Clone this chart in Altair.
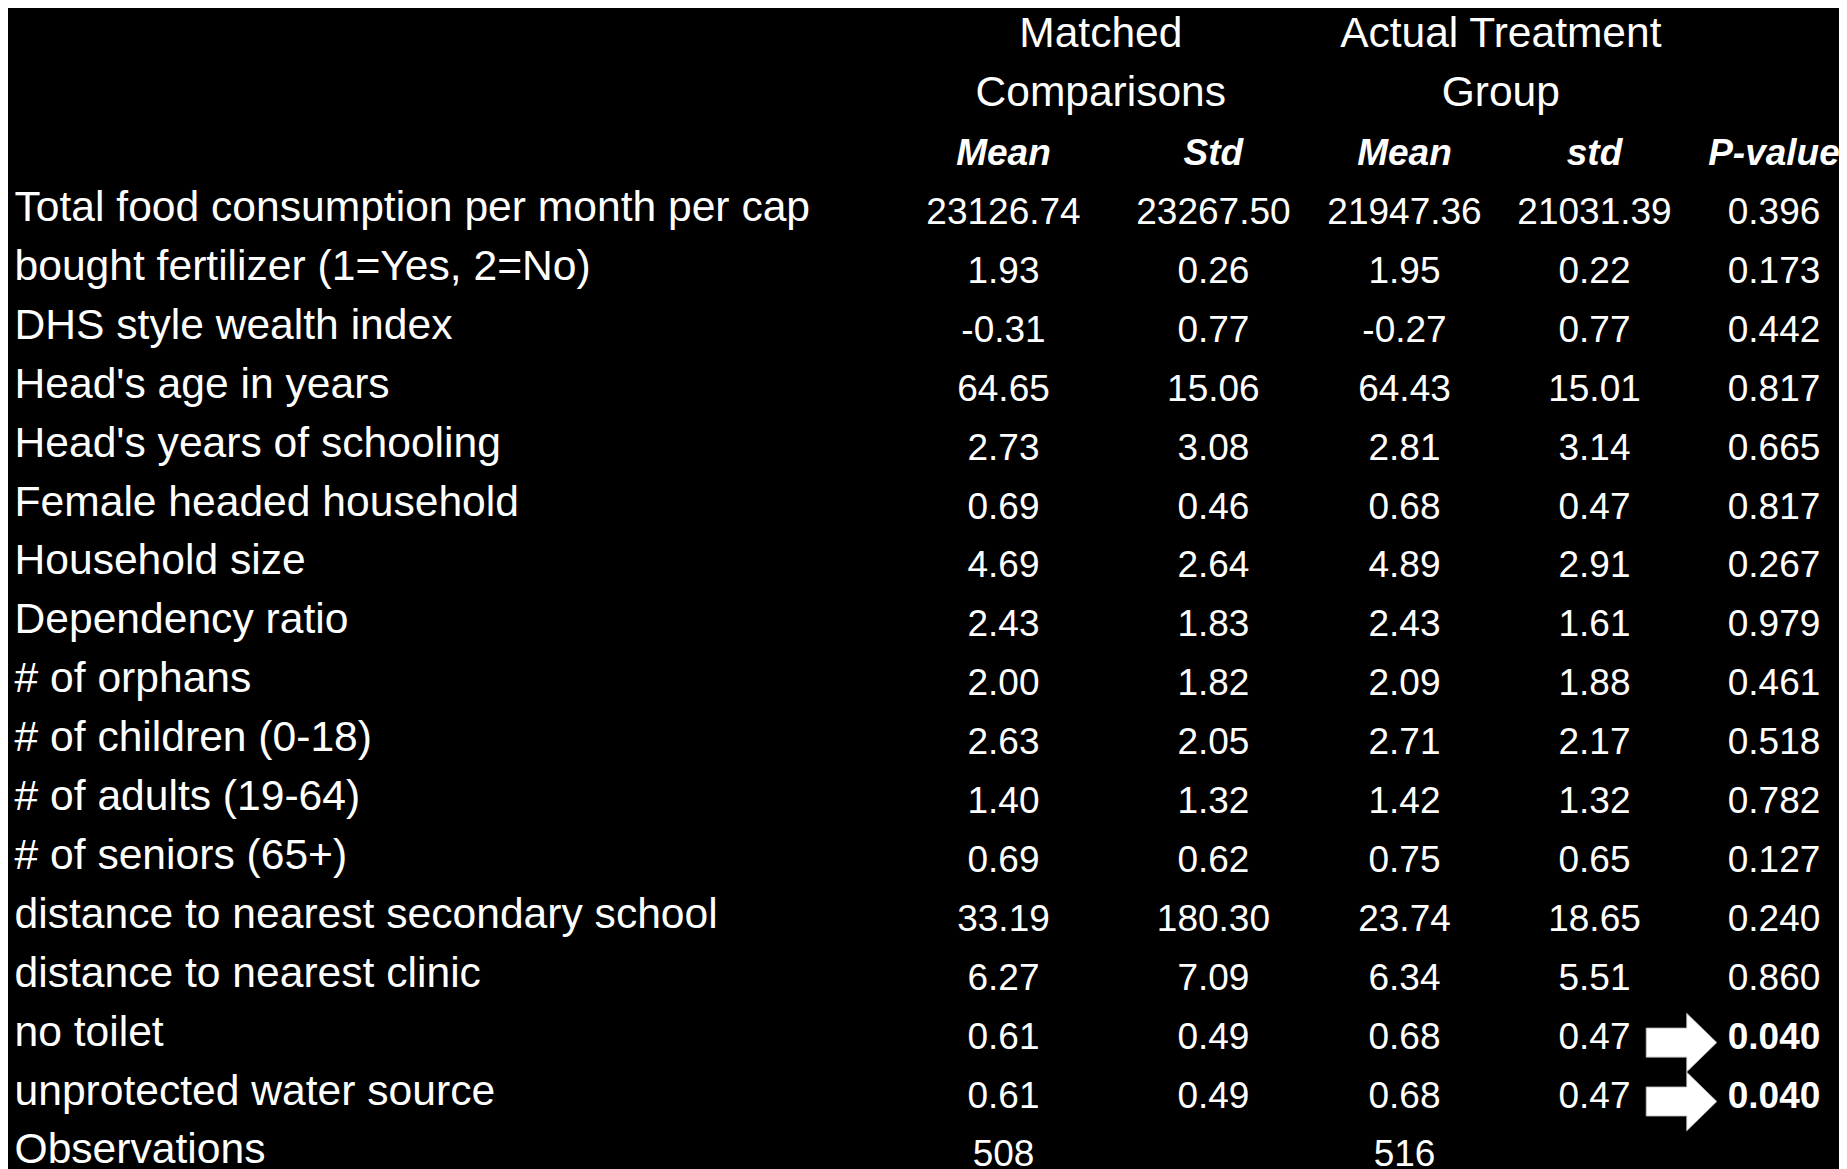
import altair as alt
import pandas as pd

# ---------------- data ----------------
variables = [
    "Total food consumption per month per cap",
    "bought fertilizer (1=Yes, 2=No)",
    "DHS style wealth index",
    "Head's age in years",
    "Head's years of schooling",
    "Female headed household",
    "Household size",
    "Dependency ratio",
    "# of orphans",
    "# of children (0-18)",
    "# of adults (19-64)",
    "# of seniors (65+)",
    "distance to nearest secondary school",
    "distance to nearest clinic",
    "no toilet",
    "unprotected water source",
]
matched_mean = [23126.74, 1.93, -0.31, 64.65, 2.73, 0.69, 4.69, 2.43, 2.00, 2.63, 1.40, 0.69, 33.19, 6.27, 0.61, 0.61]
matched_std = [23267.50, 0.26, 0.77, 15.06, 3.08, 0.46, 2.64, 1.83, 1.82, 2.05, 1.32, 0.62, 180.30, 7.09, 0.49, 0.49]
treat_mean = [21947.36, 1.95, -0.27, 64.43, 2.81, 0.68, 4.89, 2.43, 2.09, 2.71, 1.42, 0.75, 23.74, 6.34, 0.68, 0.68]
treat_std = [21031.39, 0.22, 0.77, 15.01, 3.14, 0.47, 2.91, 1.61, 1.88, 2.17, 1.32, 0.65, 18.65, 5.51, 0.47, 0.47]
p_values = [0.396, 0.173, 0.442, 0.817, 0.665, 0.817, 0.267, 0.979, 0.461, 0.518, 0.782, 0.127, 0.240, 0.860, 0.040, 0.040]
obs_label = "Observations"
observations = [508, 516]
group_headers = [["Matched", "Comparisons"], ["Actual Treatment", "Group"]]
column_headers = ["Mean", "Std", "Mean", "std", "P-value"]
significance = 0.05

# ---------------- layout (style only) ----------------
W, H = 1831, 1161
COL_X = [995.5, 1205.4, 1396.5, 1586.5, 1766.0]
GROUP_X = [1092.8, 1492.8]
LABEL_X = 6.5
ARROW_X = 1673.5
FONT = "Liberation Sans"

# ---------------- tables ----------------
n = len(variables)
labels_df = pd.DataFrame({
    "row": list(range(n)) + [n],
    "x": [LABEL_X] * (n + 1),
    "text": variables + [obs_label],
})

cells = []
for i in range(n):
    for c, v in enumerate([matched_mean[i], matched_std[i], treat_mean[i], treat_std[i]]):
        cells.append({"row": i, "x": COL_X[c], "text": f"{v:.2f}"})
for c, v in zip([0, 2], observations):
    cells.append({"row": n, "x": COL_X[c], "text": str(v)})
cells_df = pd.DataFrame(cells)

p_df = pd.DataFrame({
    "row": list(range(n)),
    "x": [COL_X[4]] * n,
    "text": [f"{p:.3f}" for p in p_values],
    "sig": [p < significance for p in p_values],
})

group_df = pd.DataFrame([
    {"row": -3 + k, "x": GROUP_X[g], "text": t}
    for g, pair in enumerate(group_headers) for k, t in enumerate(pair)
])
colhead_df = pd.DataFrame({"row": [-1] * 5, "x": COL_X, "text": column_headers})

arrow_df = p_df[p_df["sig"]].assign(x=ARROW_X)

# ---------------- scales ----------------
ROW0, STEP = 216.0, 58.9
xs = alt.Scale(domain=[0, W], range=[0, W])
ys = alt.Scale(domain=[-ROW0 / STEP, (H - ROW0) / STEP], range=[0, H])

def enc(ch):
    return ch.encode(
        x=alt.X("x:Q", scale=xs, axis=None),
        y=alt.Y("row:Q", scale=ys, axis=None),
    )

labels = enc(alt.Chart(labels_df).mark_text(
    align="left", baseline="alphabetic", font=FONT, fontSize=42.6, color="white", dy=-3
)).encode(text="text:N")

nums = enc(alt.Chart(cells_df).mark_text(
    align="center", baseline="alphabetic", font=FONT, fontSize=37, color="white"
)).encode(text="text:N")

pnorm = enc(alt.Chart(p_df[~p_df["sig"]]).mark_text(
    align="center", baseline="alphabetic", font=FONT, fontSize=37, color="white"
)).encode(text="text:N")

pbold = enc(alt.Chart(p_df[p_df["sig"]]).mark_text(
    align="center", baseline="alphabetic", font=FONT, fontSize=37, fontWeight="bold", color="white"
)).encode(text="text:N")

groups = enc(alt.Chart(group_df).mark_text(
    align="center", baseline="alphabetic", font=FONT, fontSize=42.5, color="white"
)).encode(text="text:N")

colheads = enc(alt.Chart(colhead_df).mark_text(
    align="center", baseline="alphabetic", font=FONT, fontSize=37,
    fontWeight="bold", fontStyle="italic", color="white"
)).encode(text="text:N")

ARROW_PATH = "M -1 -0.413 L 0.146 -0.413 L 0.146 -0.831 L 1 0 L 0.146 0.831 L 0.146 0.413 L -1 0.413 Z"
arrows = enc(alt.Chart(arrow_df).mark_point(
    shape=ARROW_PATH, size=5000, filled=True, fill="white", stroke="#aaaaaa",
    strokeWidth=0.8, opacity=1, fillOpacity=1, yOffset=-6
))

chart = alt.layer(labels, nums, pnorm, pbold, groups, colheads, arrows).properties(
    width=W, height=H, background="black", padding=0,
    autosize=alt.AutoSizeParams(type="none"),
).configure_view(stroke=None)

chart.save("out.html", embed_options={"renderer": "svg", "actions": False})
